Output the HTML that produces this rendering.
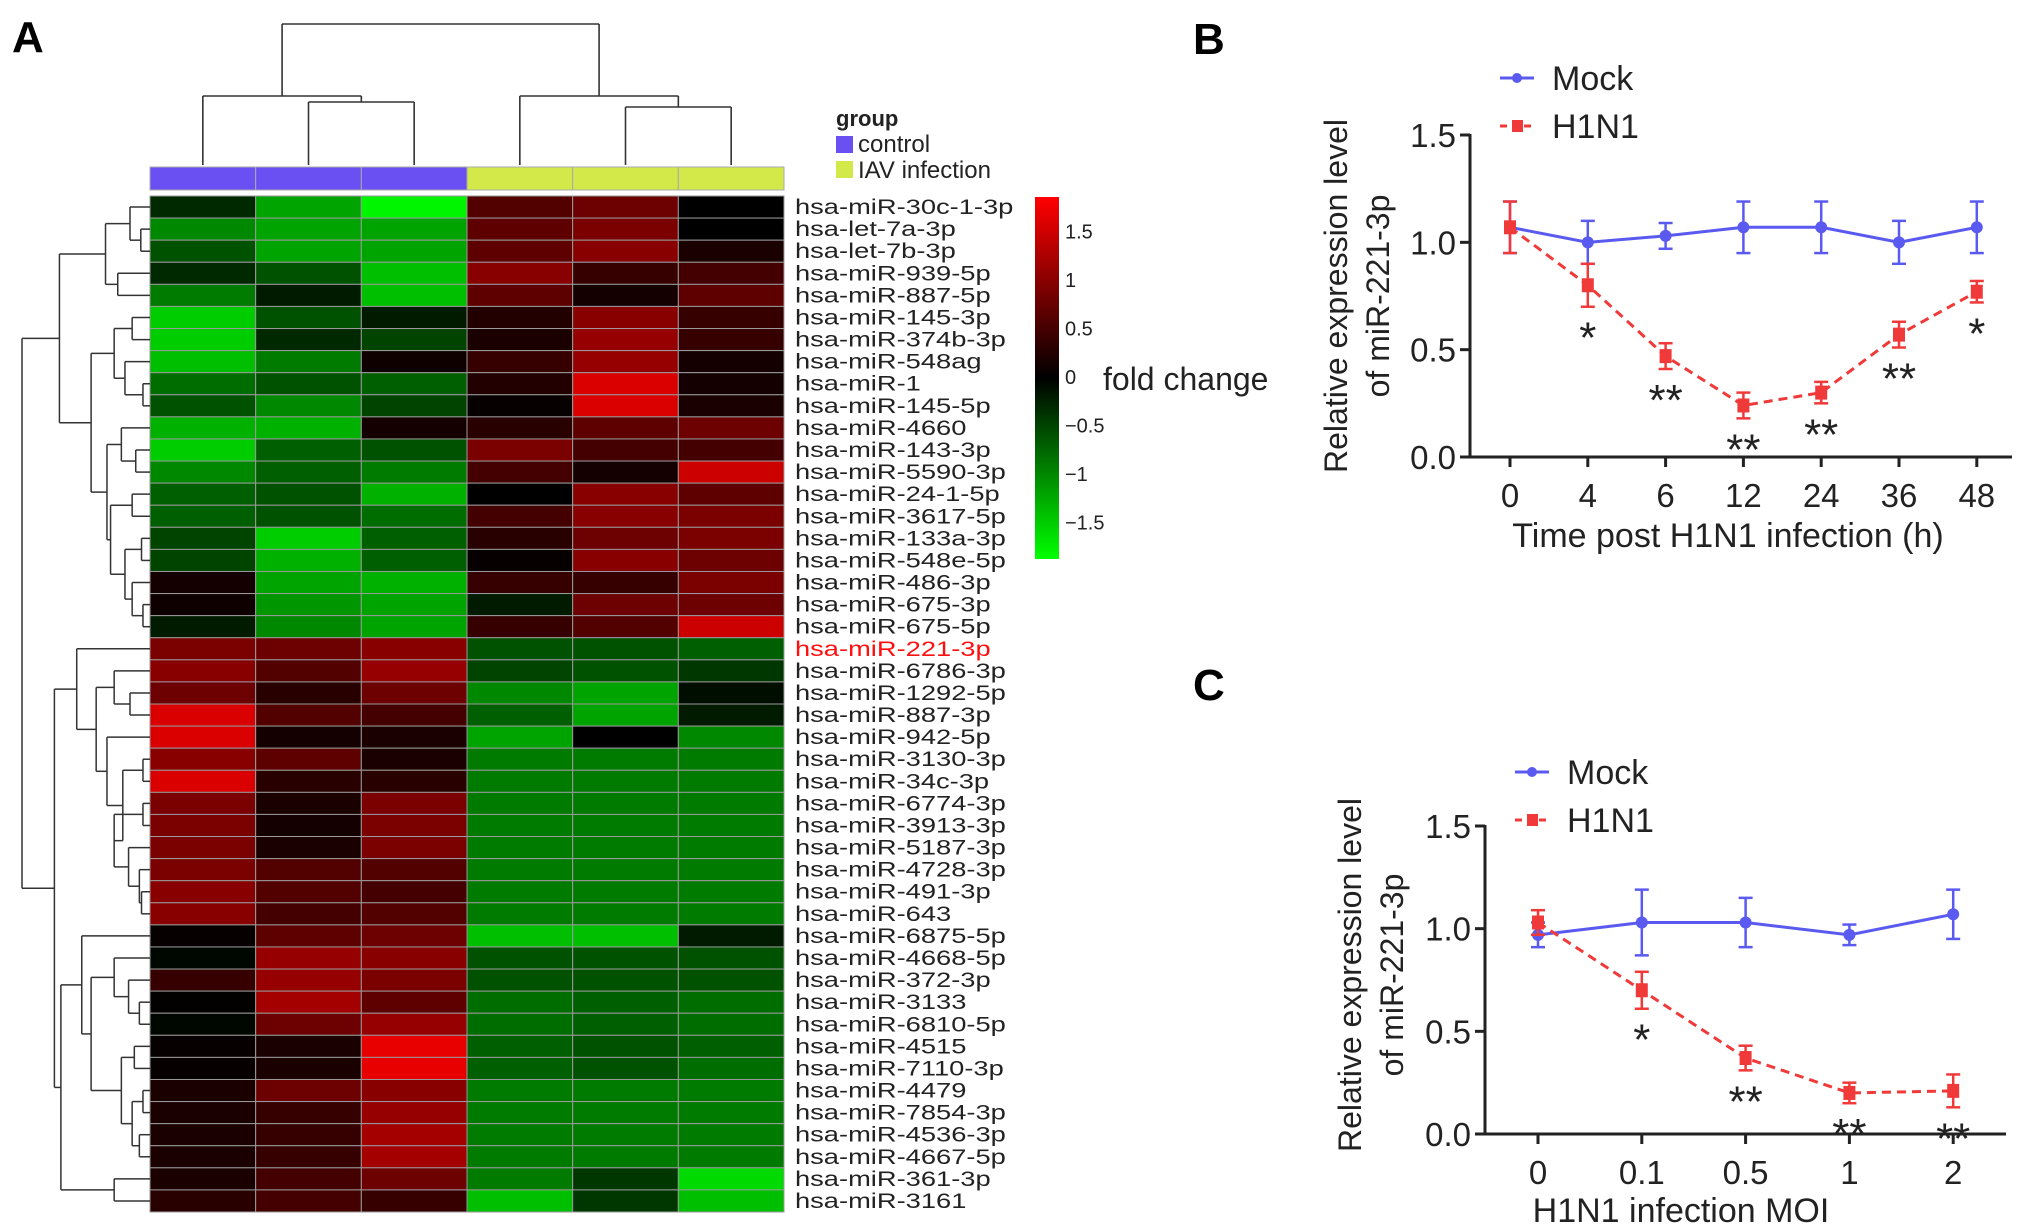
<!DOCTYPE html>
<html><head><meta charset="utf-8"><style>
html,body{margin:0;padding:0;background:#fff;}
svg{display:block;font-family:"Liberation Sans",Arial,sans-serif;}
</style></head><body>
<svg id="fig" width="2031" height="1231" viewBox="0 0 2031 1231" xmlns="http://www.w3.org/2000/svg">
<text x="12" y="52" font-size="44" font-weight="bold">A</text>
<text x="1193" y="54" font-size="44" font-weight="bold">B</text>
<text x="1193" y="700" font-size="44" font-weight="bold">C</text>
<g id="heat"></g>
<g id="chartB"></g>
<g id="chartC"></g>
</svg>
<script>
// ---------- Heatmap data ----------
const rowLabels = ["hsa-miR-30c-1-3p","hsa-let-7a-3p","hsa-let-7b-3p","hsa-miR-939-5p","hsa-miR-887-5p","hsa-miR-145-3p","hsa-miR-374b-3p","hsa-miR-548ag","hsa-miR-1","hsa-miR-145-5p","hsa-miR-4660","hsa-miR-143-3p","hsa-miR-5590-3p","hsa-miR-24-1-5p","hsa-miR-3617-5p","hsa-miR-133a-3p","hsa-miR-548e-5p","hsa-miR-486-3p","hsa-miR-675-3p","hsa-miR-675-5p","hsa-miR-221-3p","hsa-miR-6786-3p","hsa-miR-1292-5p","hsa-miR-887-3p","hsa-miR-942-5p","hsa-miR-3130-3p","hsa-miR-34c-3p","hsa-miR-6774-3p","hsa-miR-3913-3p","hsa-miR-5187-3p","hsa-miR-4728-3p","hsa-miR-491-3p","hsa-miR-643","hsa-miR-6875-5p","hsa-miR-4668-5p","hsa-miR-372-3p","hsa-miR-3133","hsa-miR-6810-5p","hsa-miR-4515","hsa-miR-7110-3p","hsa-miR-4479","hsa-miR-7854-3p","hsa-miR-4536-3p","hsa-miR-4667-5p","hsa-miR-361-3p","hsa-miR-3161"];
const groups = ["control","control","control","IAV infection","IAV infection","IAV infection"];
const heatValues = [
[-0.3,-1.2,-1.8,0.6,0.8,0],[-1.0,-1.2,-1.2,0.7,0.9,0],[-0.6,-1.2,-1.2,0.7,1.0,0.2],[-0.3,-0.6,-1.4,1.0,0.4,0.5],[-0.9,-0.2,-1.4,0.7,0.15,0.7],
[-1.5,-0.6,-0.2,0.25,1.0,0.4],[-1.5,-0.3,-0.5,0.2,1.1,0.4],[-1.4,-0.9,0.1,0.4,1.1,0.15],[-0.8,-0.6,-0.7,0.25,1.6,0.15],[-0.6,-1.0,-0.5,0.05,1.6,0.2],
[-1.3,-1.3,0.15,0.3,0.7,0.8],[-1.5,-0.7,-0.6,0.9,0.5,0.5],[-1.0,-0.7,-0.9,0.5,0.15,1.5],[-0.7,-0.6,-1.3,0.0,1.0,0.7],[-0.7,-0.6,-0.8,0.5,1.0,0.9],
[-0.5,-1.5,-0.7,0.3,0.8,0.9],[-0.5,-1.3,-0.7,0.05,1.0,0.8],[0.15,-1.2,-1.3,0.4,0.4,0.9],[0.1,-1.1,-1.2,-0.2,0.8,0.8],[-0.2,-1.0,-1.2,0.4,0.6,1.5],
[0.9,0.8,1.0,-0.6,-0.6,-0.7],[1.0,0.6,1.1,-0.5,-0.6,-0.4],[0.8,0.3,0.8,-1.0,-1.2,-0.1],[1.6,0.6,0.5,-0.7,-1.2,-0.2],[1.6,0.15,0.2,-1.2,0,-1.0],
[1.0,0.7,0.2,-0.9,-0.9,-0.9],[1.6,0.3,0.3,-0.9,-0.9,-0.9],[0.9,0.2,0.9,-0.9,-0.9,-0.9],[0.9,0.15,0.9,-0.9,-0.9,-0.9],[0.9,0.2,0.9,-0.9,-0.9,-0.9],
[0.9,0.6,0.6,-0.9,-0.9,-0.9],[1.0,0.6,0.5,-0.9,-0.9,-0.9],[1.0,0.5,0.6,-0.9,-0.9,-0.9],[0.05,0.7,0.8,-1.4,-1.4,-0.2],[-0.05,1.1,1.0,-0.6,-0.6,-0.6],
[0.4,1.1,0.9,-0.6,-0.6,-0.6],[0.02,1.2,0.7,-0.8,-0.7,-0.8],[-0.05,0.8,1.1,-0.8,-0.7,-0.8],[0.05,0.2,1.7,-0.7,-0.6,-0.7],[0.05,0.2,1.7,-0.7,-0.6,-0.8],
[0.2,0.8,1.0,-0.9,-0.9,-0.9],[0.2,0.4,1.1,-0.9,-0.9,-0.9],[0.2,0.4,1.2,-0.9,-0.9,-0.9],[0.2,0.4,1.2,-0.9,-0.9,-0.9],[0.2,0.5,0.8,-0.9,-0.4,-1.6],[0.3,0.5,0.4,-1.4,-0.4,-1.4]];
const colorTicks = [1.5,1,0.5,0,-0.5,-1,-1.5];
// ---------- Chart B data ----------
const bCats = ["0","4","6","12","24","36","48"];
const bMock = [1.07,1.0,1.03,1.07,1.07,1.0,1.07];
const bMockErr = [0.12,0.1,0.06,0.12,0.12,0.1,0.12];
const bH1N1 = [1.07,0.8,0.47,0.24,0.30,0.57,0.77];
const bH1N1Err = [0.12,0.1,0.06,0.06,0.05,0.06,0.05];
const bStars = ["","*","**","**","**","**","*"];
const yTicks = [0,0.5,1.0,1.5];
// ---------- Chart C data ----------
const cCats = ["0","0.1","0.5","1","2"];
const cMock = [0.97,1.03,1.03,0.97,1.07];
const cMockErr = [0.06,0.16,0.12,0.05,0.12];
const cH1N1 = [1.03,0.70,0.37,0.20,0.21];
const cH1N1Err = [0.06,0.09,0.06,0.05,0.08];
const cStars = ["","*","**","**","**"];

const NS="http://www.w3.org/2000/svg";
function mk(parent,tag,attrs,text){const e=document.createElementNS(NS,tag);for(const k in attrs)e.setAttribute(k,attrs[k]);if(text!==undefined)e.textContent=text;parent.appendChild(e);return e;}

// ---------- Heatmap ----------
const H=document.getElementById('heat');
const hx0=150,hx1=784,hy0=196,hy1=1212;
const cw=(hx1-hx0)/groups.length, rh=(hy1-hy0)/rowLabels.length;
const vmax=1.87;
function col(v){const t=Math.max(-1,Math.min(1,v/vmax));return t>=0?`rgb(${Math.round(255*t)},0,0)`:`rgb(0,${Math.round(255*-t)},0)`;}
groups.forEach((g,j)=>{
  const r=mk(H,'rect',{x:hx0+j*cw,y:167,width:cw,height:23,fill:g==="control"?"#6a50f2":"#d3e94a",stroke:"#aaa","stroke-width":1});
  
  
});
const SX=1.3;
heatValues.forEach((row,i)=>{
  row.forEach((v,j)=>{
    const r=mk(H,'rect',{x:hx0+j*cw,y:hy0+i*rh,width:cw,height:rh,fill:col(v),stroke:"#9a9a9a","stroke-width":1});
    
    
  });
  const t=mk(H,'text',{x:795/SX,y:hy0+i*rh+rh/2+7,"font-size":21,transform:`scale(${SX},1)`,fill:i===20?"#ff1010":"#222"},rowLabels[i]);
  
  
});
// column dendrogram
const cc=j=>hx0+cw*(j+0.5);
const colD=mk(H,'g',{stroke:"#333","stroke-width":1.6,fill:"none"});


function cl(x1,y1,x2,y2){mk(colD,'line',{x1,y1,x2,y2});}
cl(cc(1),165,cc(1),102);cl(cc(2),165,cc(2),102);cl(cc(1),102,cc(2),102);
const lm=(cc(1)+cc(2))/2;cl(lm,102,lm,96);cl(cc(0),165,cc(0),96);cl(cc(0),96,lm,96);
cl(cc(4),165,cc(4),107);cl(cc(5),165,cc(5),107);cl(cc(4),107,cc(5),107);
const rm=(cc(4)+cc(5))/2;cl(rm,107,rm,96);cl(cc(3),165,cc(3),96);cl(cc(3),96,rm,96);
const L=(cc(0)+lm)/2,R=(cc(3)+rm)/2;cl(L,96,L,24);cl(R,96,R,24);cl(L,24,R,24);
// row dendrogram
const rowD=mk(H,'g',{stroke:"#333","stroke-width":1.5,fill:"none"});


function N(x,a,b){return {x:22+(x-22)*0.72,c:[a,b]};}
const tree=N(22,
 N(74,
  N(138,N(172,0,N(187,1,2)),N(155,3,4)),
  N(118,N(150,N(175,5,6),N(165,7,N(190,8,9))),N(140,N(160,10,N(180,11,12)),N(145,N(175,13,14),N(165,N(188,15,16),N(175,17,N(190,18,19)))))) ),
 N(67,
  N(98,20,N(125,N(150,21,N(172,22,23)),N(140,24,N(162,N(190,25,26),N(150,N(190,27,28),N(170,29,N(185,30,N(188,31,32)))))))),
  N(76,N(105,33,N(118,N(150,34,N(170,35,N(185,36,37))),N(160,N(178,38,39),N(175,N(190,40,41),N(185,42,43))))),N(150,44,45))));
function draw(n){
  if(typeof n==="number")return {x:hx0,y:hy0+rh*(n+0.5)};
  const a=draw(n.c[0]),b=draw(n.c[1]);
  mk(rowD,'line',{x1:a.x,y1:a.y,x2:n.x,y2:a.y});
  mk(rowD,'line',{x1:b.x,y1:b.y,x2:n.x,y2:b.y});
  mk(rowD,'line',{x1:n.x,y1:a.y,x2:n.x,y2:b.y});
  return {x:n.x,y:(a.y+b.y)/2};
}
draw(tree);
// group legend
mk(H,'text',{x:836,y:126,"font-size":22,"font-weight":"bold",fill:"#222"},"group");
const lg1=mk(H,'rect',{x:836,y:136,width:17,height:17,fill:"#6a50f2"});
mk(H,'text',{x:858,y:152,"font-size":24,fill:"#222"},"control");
const lg2=mk(H,'rect',{x:836,y:161,width:17,height:17,fill:"#d3e94a"});
mk(H,'text',{x:858,y:178,"font-size":24,fill:"#222"},"IAV infection");
// colorbar
const defs=mk(document.getElementById('fig'),'defs',{});
const gr=mk(defs,'linearGradient',{id:'cb',x1:0,y1:0,x2:0,y2:1});
mk(gr,'stop',{offset:'0',"stop-color":"#ff0000"});mk(gr,'stop',{offset:'0.5',"stop-color":"#000"});mk(gr,'stop',{offset:'1',"stop-color":"#00ff00"});
const cbTop=197,cbBot=559,cbZero=377,cbPer=97;
const cb=mk(H,'rect',{x:1035,y:cbTop,width:24,height:cbBot-cbTop,fill:"url(#cb)"});

colorTicks.forEach(v=>{const t=mk(H,'text',{x:1065,y:cbZero-v*cbPer+7,"font-size":20,fill:"#222"},String(v).replace('-','\u2212'));
 });
mk(H,'text',{x:1103,y:390,"font-size":32,fill:"#222"},"fold change");

// ---------- Line charts ----------
function chart(gid,o){
  const G=document.getElementById(gid);
  const y=v=>o.y0-v*(o.y0-o.y15)/1.5;
  const x=i=>o.xa+i*o.dx;
  const ax=mk(G,'g',{stroke:"#222","stroke-width":3,fill:"none"});
  
  mk(ax,'line',{x1:o.ax,y1:y(1.5)-1,x2:o.ax,y2:o.y0});
  mk(ax,'line',{x1:o.ax-10,y1:o.y0,x2:o.xend,y2:o.y0});
  yTicks.forEach(v=>{mk(ax,'line',{x1:o.ax-10,y1:y(v),x2:o.ax,y2:y(v)});
    const t=mk(G,'text',{x:o.ax-14,y:y(v)+12,"font-size":33,"text-anchor":"end",fill:"#222"},v.toFixed(1));
    });
  o.cats.forEach((c,i)=>{mk(ax,'line',{x1:x(i),y1:o.y0,x2:x(i),y2:o.y0+10});
    const t=mk(G,'text',{x:x(i),y:o.y0+50,"font-size":33,"text-anchor":"middle",fill:"#222"},c);
    });
  const xt=mk(G,'text',{x:o.xtx,y:o.xty,"font-size":34,"text-anchor":"middle",fill:"#222"},o.xtitle);
  
  const yt=mk(G,'text',{transform:`translate(${o.ytx},${o.yty}) rotate(-90)`,"font-size":32,"text-anchor":"middle",fill:"#222"});
  
  mk(yt,'tspan',{x:0,y:0},"Relative expression level");mk(yt,'tspan',{x:0,y:42},"of miR-221-3p");
  function series(vals,errs,color,dash,sq,name){
    const g=mk(G,'g',{});
    mk(g,'polyline',{points:vals.map((v,i)=>x(i)+','+y(v)).join(' '),fill:"none",stroke:color,"stroke-width":3,"stroke-dasharray":dash});
    vals.forEach((v,i)=>{
      mk(g,'line',{x1:x(i),y1:y(v-errs[i]),x2:x(i),y2:y(v+errs[i]),stroke:color,"stroke-width":2.5});
      mk(g,'line',{x1:x(i)-7,y1:y(v-errs[i]),x2:x(i)+7,y2:y(v-errs[i]),stroke:color,"stroke-width":2.5});
      mk(g,'line',{x1:x(i)-7,y1:y(v+errs[i]),x2:x(i)+7,y2:y(v+errs[i]),stroke:color,"stroke-width":2.5});
      const m=sq?mk(g,'rect',{x:x(i)-6,y:y(v)-7,width:12,height:14,fill:color}):mk(g,'circle',{cx:x(i),cy:y(v),r:6,fill:color});
      
    });
  }
  series(o.mock,o.mockErr,"#5a5af0","none",false,"mock-series");
  series(o.h,o.hErr,"#f03a3a","9 6",true,"h1n1-series");
  o.stars.forEach((s,i)=>{if(!s)return;const t=mk(G,'text',{x:x(i),y:y(o.h[i]-o.hErr[i])+46,"font-size":44,"text-anchor":"middle",fill:"#222"},s);
    });
  const l1=mk(G,'g',{});
  mk(l1,'line',{x1:o.lx,y1:o.ly1,x2:o.lx+34,y2:o.ly1,stroke:"#5a5af0","stroke-width":3});
  mk(l1,'circle',{cx:o.lx+17,cy:o.ly1,r:5,fill:"#5a5af0"});
  mk(l1,'text',{x:o.lx+52,y:o.ly1+12,"font-size":34,fill:"#222"},"Mock");
  const l2=mk(G,'g',{});
  mk(l2,'line',{x1:o.lx,y1:o.ly2,x2:o.lx+34,y2:o.ly2,stroke:"#f03a3a","stroke-width":3,"stroke-dasharray":"7 5"});
  mk(l2,'rect',{x:o.lx+12,y:o.ly2-6,width:11,height:12,fill:"#f03a3a"});
  mk(l2,'text',{x:o.lx+52,y:o.ly2+12,"font-size":34,fill:"#222"},"H1N1");
}
chart('chartB',{cats:bCats,mock:bMock,mockErr:bMockErr,h:bH1N1,hErr:bH1N1Err,stars:bStars,
  ax:1470,y0:457,y15:135,xa:1510,dx:77.8,xend:2012,xtitle:"Time post H1N1 infection (h)",xtx:1728,xty:547,
  ytx:1347,yty:296,lx:1500,ly1:78,ly2:126});
chart('chartC',{cats:cCats,mock:cMock,mockErr:cMockErr,h:cH1N1,hErr:cH1N1Err,stars:cStars,
  ax:1485,y0:1134,y15:826,xa:1538,dx:103.8,xend:2006,xtitle:"H1N1 infection MOI",xtx:1681,xty:1222,
  ytx:1361,yty:975,lx:1515,ly1:772,ly2:820});
</script>
</body></html>
